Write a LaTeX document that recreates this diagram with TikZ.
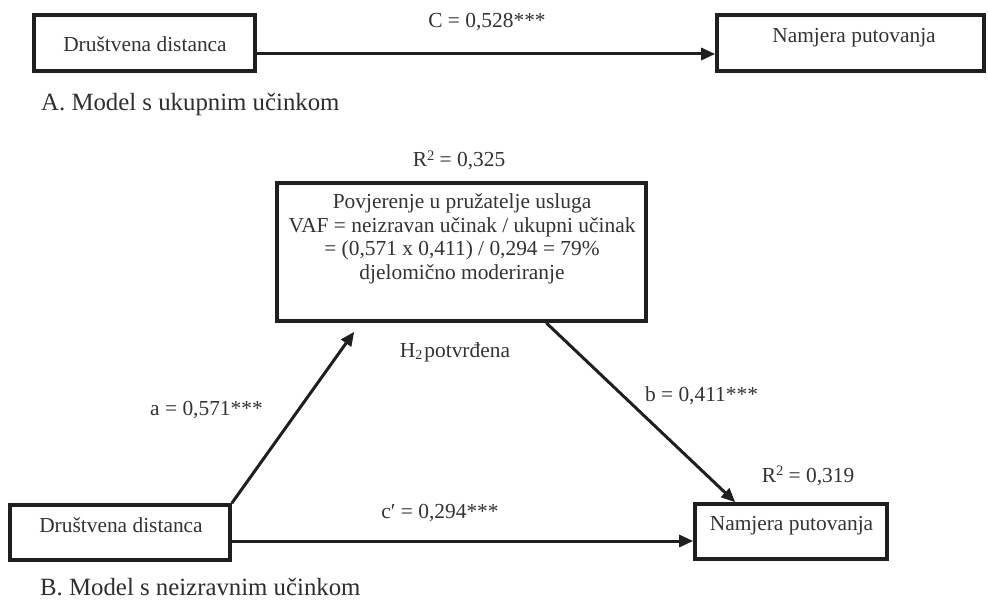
\documentclass[tikz,border=0pt]{standalone}
\usepackage{fontspec}
\setmainfont{Liberation Serif}
\usetikzlibrary{arrows.meta,calc}
\newcommand{\supsmall}[1]{\raisebox{0.7ex}{\fontsize{14.5}{14.5}\selectfont #1}}
\newcommand{\subsmall}[1]{\raisebox{-0.25ex}{\fontsize{14}{14}\selectfont #1}}
\begin{document}
\begin{tikzpicture}[x=1pt,y=-1pt,
  box/.style={draw=black!88,line width=3.6pt,minimum width=#1,inner sep=0pt},
  txt/.style={text=black!80,font=\fontsize{21.4}{23.5}\selectfont,inner sep=0pt},
  captxt/.style={text=black!82,font=\fontsize{24.8}{28}\selectfont,inner sep=0pt},
  arr/.style={draw=black!88,line width=3pt,-{Triangle[length=14pt,width=12pt]}}]
\useasboundingbox (0,0) rectangle (988,607);
% Model A
\node[box=221pt,minimum height=56pt] (A1) at (144.5,43) {};
\node[box=267pt,minimum height=56pt] (A2) at (850.5,43) {};
\node[txt,anchor=base] (A1t) at (145,52) {Društvena distanca};
\node[txt,anchor=base] (A2t) at (854,43) {Namjera putovanja};
\coordinate (aS) at ($(A1.east)+(0,11)$);
\coordinate (aE) at ($(A2.west)+(0,11)$);
\draw[arr] (aS) -- (aE);
\node[txt,anchor=base] (lC) at (487,28) {C = 0,528***};
\node[captxt,anchor=base west] (capA) at (41,111) {A. Model s ukupnim učinkom};
% Model B
\node[box=369pt,minimum height=138pt] (M) at (461.5,252) {};
\node[txt,align=center] (Mt) at (462,239) {Povjerenje u pružatelje usluga\\VAF = neizravan učinak / ukupni učinak\\= (0,571 x 0,411) / 0,294 = 79\%\\djelomično moderiranje};
\node[txt,anchor=base] (R1) at (459,167) {R\supsmall{2} = 0,325};
\node[box=220pt,minimum height=55pt] (B1) at (120,532.5) {};
\node[box=192pt,minimum height=55pt] (B2) at (791,531.5) {};
\node[txt,anchor=base] (B1t) at (121,532) {Društvena distanca};
\node[txt,anchor=base] (B2t) at (791.5,530) {Namjera putovanja};
\coordinate (aTip) at ($(M.south west)+(79,9)$);
\draw[arr] (B1.north east) -- (aTip);
\coordinate (bS) at ($(M.south west)+(271,0)$);
\coordinate (bE) at ($(B2.north west)+(42,0)$);
\draw[arr] (bS) -- (bE);
\coordinate (cS) at ($(B1.east)+(0,8.5)$);
\coordinate (cE) at ($(B2.west)+(0,9.5)$);
\draw[arr] (cS) -- (cE);
\node[txt,anchor=base] (la) at (206.5,415) {a = 0,571***};
\node[txt,anchor=base] (lH) at (455,357) {H\subsmall{2}\hspace{2pt}potvrđena};
\node[txt,anchor=base] (lb) at (701.5,401) {b = 0,411***};
\node[txt,anchor=base] (R2) at (808,482) {R\supsmall{2} = 0,319};
\node[txt,anchor=base] (lc) at (440,518) {c′ = 0,294***};
\node[captxt,anchor=base west] (capB) at (40,595) {B. Model s neizravnim učinkom};
\end{tikzpicture}
\end{document}
